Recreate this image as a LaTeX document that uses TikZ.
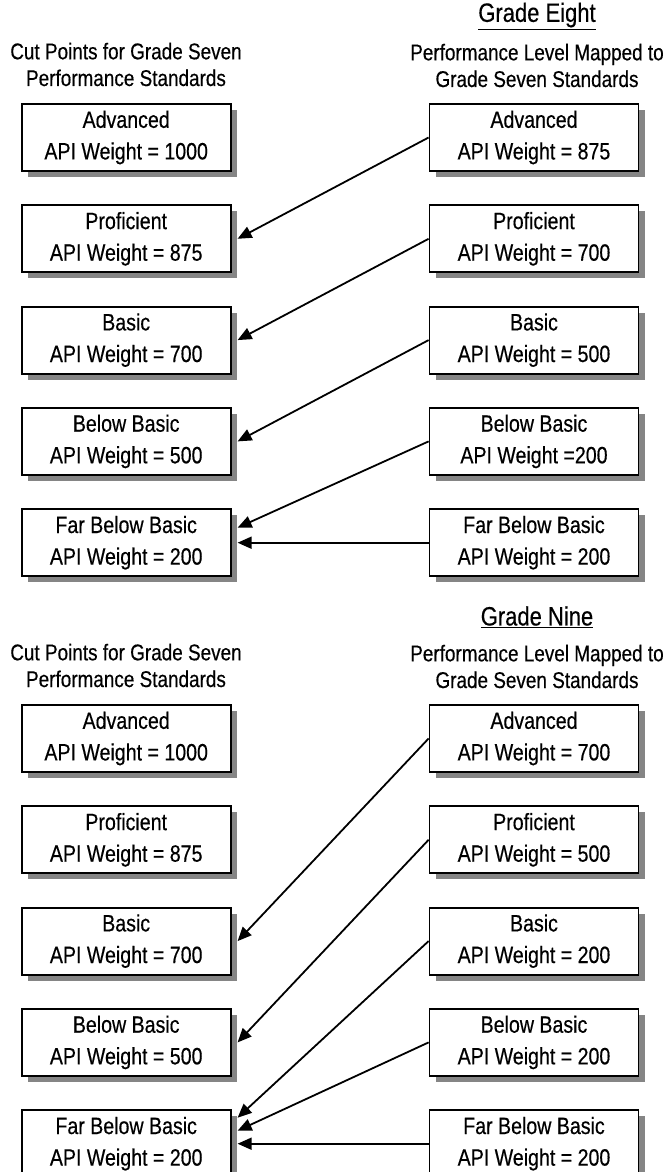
\documentclass[tikz,border=0pt]{standalone}
\usepackage{fontspec}
\setmainfont{Liberation Sans}[FakeStretch=0.83, FakeBold=0.4]
\usetikzlibrary{arrows.meta,positioning,shadows}

\begin{document}
\begin{tikzpicture}[
    x=1pt, y=1pt,
    node distance=32.5pt and 197pt,
    cutbox/.style={draw, line width=1.8pt, fill=white, minimum width=209pt, minimum height=67pt,
                   align=center, inner sep=0pt, font=\fontsize{23.6}{31.6}\selectfont,
                   drop shadow={shadow xshift=6pt, shadow yshift=-6pt, fill=black!48, opacity=1}},
    head/.style={align=center, font=\fontsize{22.8}{26.7}\selectfont},
    grade/.style={font=\fontsize{26.5}{30}\selectfont},
    arr/.style={-{Triangle[length=14pt,width=12pt]}, line width=1.8pt}
]
    \useasboundingbox (0,0) rectangle (669,-1172);

    % grade eight
    \node[grade] (eighthd) at (537,-16) {\underline{Grade Eight}};
    \node[head] (e7hd) at (126,-64.5) {Cut Points for Grade Seven\\Performance Standards};
    \node[head] (e8hd) at (537,-65.5) {Performance Level Mapped to\\Grade Seven Standards};

    \node[cutbox] (e7adv) at (126.2,-137.5) {Advanced\\API Weight = 1000};
    \node[cutbox, below=of e7adv] (e7prof) {Proficient\\API Weight = 875};
    \node[cutbox, below=of e7prof] (e7bas) {Basic\\API Weight = 700};
    \node[cutbox, below=of e7bas] (e7bel) {Below Basic\\API Weight = 500};
    \node[cutbox, below=of e7bel] (e7far) {Far Below Basic\\API Weight = 200};

    \node[cutbox, right=of e7adv] (e8adv) {Advanced\\API Weight = 875};
    \node[cutbox, right=of e7prof] (e8prof) {Proficient\\API Weight = 700};
    \node[cutbox, right=of e7bas] (e8bas) {Basic\\API Weight = 500};
    \node[cutbox, right=of e7bel] (e8bel) {Below Basic\\API Weight =200};
    \node[cutbox, right=of e7far] (e8far) {Far Below Basic\\API Weight = 200};

    \draw[arr] (e8adv.west)  -- ([xshift=6pt]e7prof.east);
    \draw[arr] (e8prof.west) -- ([xshift=6pt]e7bas.east);
    \draw[arr] (e8bas.west)  -- ([xshift=6pt]e7bel.east);
    \draw[arr] (e8bel.west)  -- ([xshift=6pt,yshift=15pt]e7far.east);
    \draw[arr] (e8far.west)  -- ([xshift=6pt]e7far.east);

    % grade nine
    \node[grade] (ninehd) at (537,-617) {\underline{Grade Nine}};
    \node[head] (n7hd) at (126,-665.5) {Cut Points for Grade Seven\\Performance Standards};
    \node[head] (n9hd) at (537,-666.5) {Performance Level Mapped to\\Grade Seven Standards};

    \node[cutbox] (n7adv) at (126.2,-738.5) {Advanced\\API Weight = 1000};
    \node[cutbox, below=of n7adv] (n7prof) {Proficient\\API Weight = 875};
    \node[cutbox, below=of n7prof] (n7bas) {Basic\\API Weight = 700};
    \node[cutbox, below=of n7bas] (n7bel) {Below Basic\\API Weight = 500};
    \node[cutbox, below=of n7bel] (n7far) {Far Below Basic\\API Weight = 200};

    \node[cutbox, right=of n7adv] (n9adv) {Advanced\\API Weight = 700};
    \node[cutbox, right=of n7prof] (n9prof) {Proficient\\API Weight = 500};
    \node[cutbox, right=of n7bas] (n9bas) {Basic\\API Weight = 200};
    \node[cutbox, right=of n7bel] (n9bel) {Below Basic\\API Weight = 200};
    \node[cutbox, right=of n7far] (n9far) {Far Below Basic\\API Weight = 200};

    \draw[arr] (n9adv.west)  -- ([xshift=6pt]n7bas.east);
    \draw[arr] (n9prof.west) -- ([xshift=6pt]n7bel.east);
    \draw[arr] (n9bas.west)  -- ([xshift=6pt,yshift=26pt]n7far.east);
    \draw[arr] (n9bel.west)  -- ([xshift=6pt,yshift=13pt]n7far.east);
    \draw[arr] (n9far.west)  -- ([xshift=6pt]n7far.east);
\end{tikzpicture}
\end{document}
